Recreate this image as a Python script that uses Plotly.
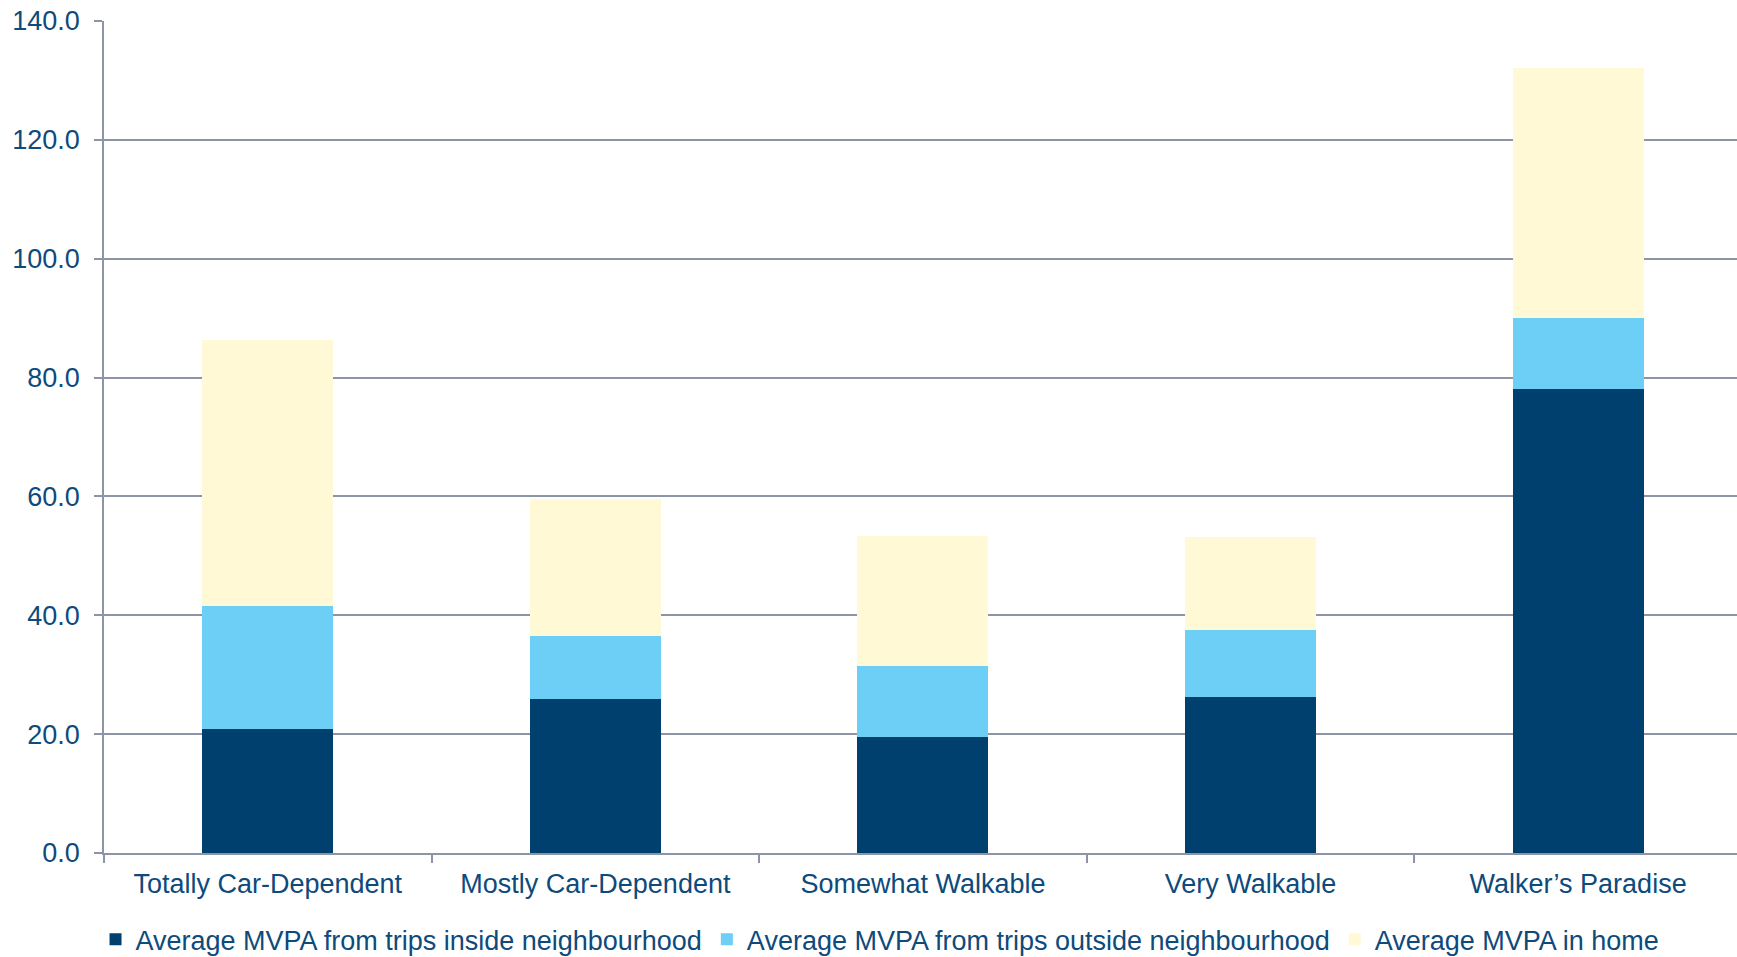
"""
Stacked bar chart: average MVPA by walkability category.
"""

import plotly.graph_objects as go

# ── Data ─────────────────────────────────────────────────────────────────────
CATEGORIES = [
    "Totally Car-Dependent",
    "Mostly Car-Dependent",
    "Somewhat Walkable",
    "Very Walkable",
    "Walker\u2019s Paradise",
]
INSIDE_NEIGHBOURHOOD = [20.8, 25.9, 19.5, 26.2, 78.0]
OUTSIDE_NEIGHBOURHOOD = [20.8, 10.6, 11.9, 11.4, 12.1]
IN_HOME = [44.8, 23.1, 22.0, 15.6, 42.0]

SERIES_NAMES = [
    "Average MVPA from trips inside neighbourhood",
    "Average MVPA from trips outside neighbourhood",
    "Average MVPA in home",
]
Y_TICKS = [0, 20, 40, 60, 80, 100, 120, 140]

# ── Theme ────────────────────────────────────────────────────────────────────
COLORS = ["#00406E", "#6DCFF6", "#FFF9D6"]
TEXT_COLOR = "#0E4A7B"
GRID_COLOR = "#8C94A6"
FONT = "Liberation Sans, Arial, sans-serif"

fig = go.Figure()
for name, values, color in zip(
    SERIES_NAMES, [INSIDE_NEIGHBOURHOOD, OUTSIDE_NEIGHBOURHOOD, IN_HOME], COLORS
):
    fig.add_trace(go.Bar(
        x=CATEGORIES, y=values, name=name,
        marker=dict(color=color, line=dict(width=0)),
        hoverinfo="skip",
    ))

fig.update_layout(
    barmode="stack",
    bargap=0.6,
    width=1737,
    height=957,
    paper_bgcolor="white",
    plot_bgcolor="white",
    font=dict(family=FONT, size=27, color=TEXT_COLOR),
    margin=dict(l=104, r=0, t=21, b=104),
    showlegend=True,
    legend=dict(
        orientation="h",
        xref="container", x=0.055, xanchor="left",
        yref="container", y=0.018, yanchor="middle",
        font=dict(size=27, color=TEXT_COLOR),
        traceorder="normal",
        bgcolor="rgba(0,0,0,0)",
    ),
    xaxis=dict(
        showline=True, linecolor=GRID_COLOR, linewidth=1.5,
        ticks="outside", tickson="boundaries", ticklen=8,
        tickcolor=GRID_COLOR, tickwidth=1.5,
        showgrid=False,
        range=[-0.5, 4.485],
        ticklabelstandoff=6,
    ),
    yaxis=dict(
        range=[0, 140],
        tickvals=Y_TICKS,
        tickformat=".1f",
        showline=True, linecolor=GRID_COLOR, linewidth=1.5,
        ticks="outside", ticklen=8, tickcolor=GRID_COLOR, tickwidth=1.5,
        showgrid=True, gridcolor=GRID_COLOR, gridwidth=1.5,
        zeroline=False,
        ticklabelstandoff=9,
    ),
)

fig.write_html(
    "out.html",
    config={"displayModeBar": False},
    post_script="document.body.style.margin='0';document.body.style.overflow='hidden';",
)
